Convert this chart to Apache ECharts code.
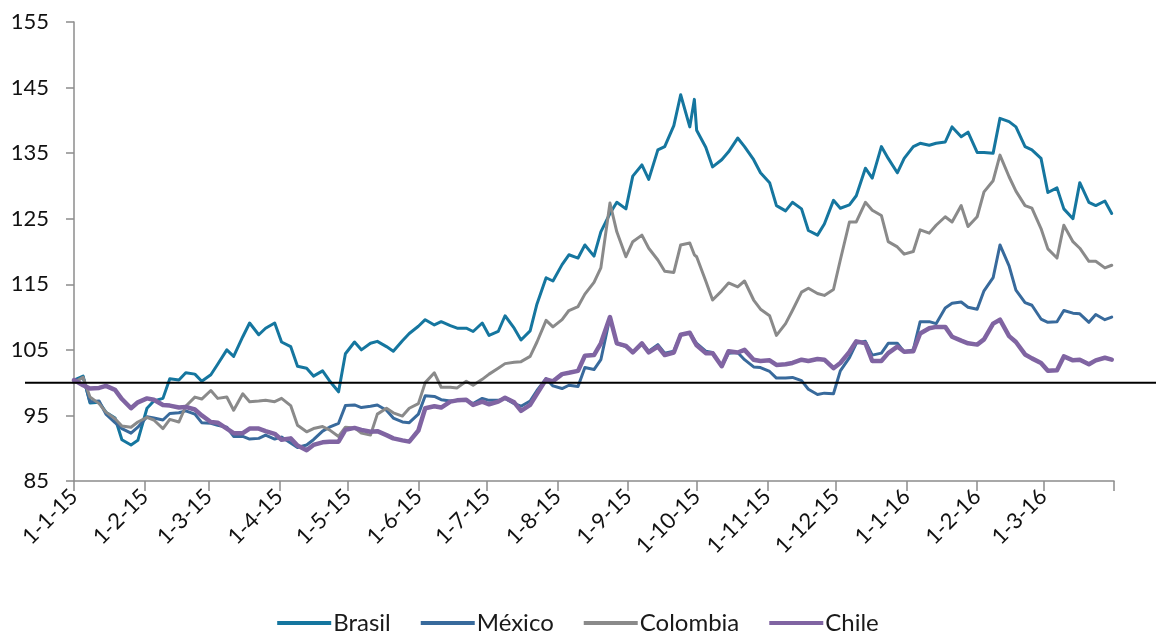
<!DOCTYPE html>
<html>
<head>
<meta charset="utf-8">
<script src="https://cdn.jsdelivr.net/npm/echarts@6/dist/echarts.min.js"></script>
<style>
  html, body { margin: 0; padding: 0; background: #ffffff; }
  #chart { width: 1156px; height: 635px; }
</style>
</head>
<body>
<div id="chart"></div>
<script>
// ---- Data ----
const dates = [
  '2015-01-01','2015-01-05','2015-01-08','2015-01-12','2015-01-15','2015-01-19','2015-01-22','2015-01-26','2015-01-29',
  '2015-02-02','2015-02-05','2015-02-09','2015-02-12','2015-02-16','2015-02-19','2015-02-23','2015-02-26',
  '2015-03-02','2015-03-05','2015-03-09','2015-03-12','2015-03-16','2015-03-19','2015-03-23','2015-03-26','2015-03-30',
  '2015-04-02','2015-04-06','2015-04-09','2015-04-13','2015-04-16','2015-04-20','2015-04-23','2015-04-27','2015-04-30',
  '2015-05-04','2015-05-07','2015-05-11','2015-05-14','2015-05-18','2015-05-21','2015-05-25','2015-05-28',
  '2015-06-01','2015-06-04','2015-06-08','2015-06-11','2015-06-15','2015-06-18','2015-06-22','2015-06-25','2015-06-29',
  '2015-07-02','2015-07-06','2015-07-09','2015-07-13','2015-07-16','2015-07-20','2015-07-23','2015-07-27','2015-07-30',
  '2015-08-03','2015-08-06','2015-08-10','2015-08-13','2015-08-17','2015-08-20','2015-08-24','2015-08-27','2015-08-31',
  '2015-09-03','2015-09-07','2015-09-10','2015-09-14','2015-09-17','2015-09-21','2015-09-24','2015-09-28','2015-09-30',
  '2015-10-01','2015-10-05','2015-10-08','2015-10-12','2015-10-15','2015-10-19','2015-10-22','2015-10-26','2015-10-29',
  '2015-11-02','2015-11-05','2015-11-09','2015-11-12','2015-11-16','2015-11-19','2015-11-23','2015-11-26','2015-11-30',
  '2015-12-03','2015-12-07','2015-12-10','2015-12-14','2015-12-17','2015-12-21','2015-12-24','2015-12-28','2015-12-31',
  '2016-01-04','2016-01-07','2016-01-11','2016-01-14','2016-01-18','2016-01-21','2016-01-25','2016-01-28',
  '2016-02-01','2016-02-04','2016-02-08','2016-02-11','2016-02-15','2016-02-18','2016-02-22','2016-02-25','2016-02-29',
  '2016-03-03','2016-03-07','2016-03-10','2016-03-14','2016-03-17','2016-03-21','2016-03-24','2016-03-28','2016-03-31'
];

const brasil = [
  100.4,101.0,96.9,97.0,95.5,94.6,91.3,90.5,91.2,
  96.1,97.2,97.6,100.6,100.4,101.5,101.3,100.2,
  101.2,102.8,105.0,104.0,107.0,109.1,107.3,108.3,109.1,
  106.2,105.5,102.5,102.2,101.0,101.8,100.3,98.6,104.4,
  106.2,105.0,106.0,106.3,105.5,104.8,106.4,107.5,
  108.6,109.6,108.8,109.3,108.7,108.3,108.3,107.8,109.1,
  107.2,107.8,110.2,108.3,106.5,107.9,112.0,116.0,115.5,
  118.0,119.5,119.0,121.0,119.3,123.0,125.8,127.5,126.5,
  131.5,133.2,131.0,135.5,136.0,139.2,143.9,139.0,143.2,
  138.5,135.9,132.9,134.0,135.2,137.3,136.0,134.0,132.0,
  130.5,127.0,126.2,127.5,126.5,123.2,122.5,124.2,127.8,
  126.6,127.1,128.5,132.7,131.2,136.0,134.2,132.0,134.2,
  136.0,136.5,136.2,136.5,136.7,139.0,137.5,138.2,
  135.1,135.1,135.0,140.3,139.8,139.0,136.0,135.5,134.2,
  129.0,129.7,126.5,125.0,130.5,127.5,127.0,127.7,125.8
];

const mexico = [
  100.2,100.8,97.1,97.2,95.2,93.9,93.0,92.3,93.2,
  94.8,94.6,94.3,95.3,95.4,95.7,95.2,93.9,
  93.8,93.5,93.2,91.8,91.8,91.4,91.5,92.0,91.4,
  91.7,90.8,90.1,90.5,91.3,92.6,93.2,93.8,96.5,
  96.6,96.2,96.4,96.6,95.8,94.6,94.0,93.9,
  95.2,98.0,97.9,97.4,97.2,97.3,97.3,96.8,97.6,
  97.3,97.3,97.6,96.8,96.4,97.2,98.8,100.6,99.5,
  99.1,99.6,99.4,102.3,102.0,103.5,110.0,106.0,105.5,
  104.6,106.0,104.8,105.8,104.5,104.8,107.3,107.6,106.5,
  106.0,104.8,104.6,102.5,104.5,104.6,103.5,102.4,102.3,
  101.7,100.7,100.7,100.8,100.3,99.0,98.2,98.4,98.3,
  101.8,103.8,106.0,106.3,104.2,104.5,106.0,106.0,104.7,
  105.0,109.3,109.3,109.0,111.4,112.1,112.3,111.5,
  111.2,114.0,116.0,121.0,117.8,114.1,112.2,111.8,109.7,
  109.2,109.3,111.0,110.6,110.5,109.2,110.4,109.6,110.0
];

const colombia = [
  100.0,100.8,97.8,96.8,95.5,94.5,93.4,93.2,94.0,
  94.7,94.3,93.0,94.4,94.0,96.4,97.8,97.5,
  98.8,97.6,97.8,95.8,98.3,97.1,97.2,97.3,97.1,
  97.6,96.5,93.5,92.5,93.0,93.3,92.8,91.8,93.2,
  93.1,92.3,92.0,95.2,96.1,95.4,94.9,96.1,
  96.8,100.0,101.5,99.3,99.3,99.2,100.2,99.6,100.5,
  101.3,102.2,102.9,103.1,103.2,104.0,106.2,109.5,108.5,
  109.6,111.0,111.6,113.5,115.3,117.5,127.4,123.0,119.2,
  121.5,122.5,120.5,118.7,117.0,116.8,121.0,121.3,119.5,
  119.2,115.5,112.6,114.0,115.2,114.6,115.5,112.6,111.2,
  110.2,107.2,109.0,111.0,113.8,114.4,113.6,113.3,114.2,
  118.7,124.5,124.5,127.5,126.3,125.5,121.5,120.7,119.6,
  120.0,123.3,122.8,124.0,125.3,124.5,127.0,123.8,
  125.3,129.1,130.8,134.7,131.4,129.2,127.0,126.6,123.5,
  120.4,119.0,124.0,121.5,120.5,118.5,118.5,117.5,117.9
];

const chile = [
  100.4,99.6,99.1,99.2,99.5,98.9,97.5,96.1,97.0,
  97.6,97.4,96.6,96.5,96.2,96.3,95.9,95.0,
  94.0,93.9,93.0,92.3,92.3,93.0,93.0,92.6,92.2,
  91.3,91.5,90.4,89.7,90.5,90.9,91.0,91.0,92.8,
  93.1,92.8,92.5,92.6,92.0,91.5,91.2,91.0,
  92.7,96.1,96.4,96.2,97.1,97.3,97.4,96.6,97.1,
  96.7,97.1,97.7,97.0,95.7,96.6,98.3,100.5,100.2,
  101.3,101.5,101.8,104.1,104.2,106.0,110.0,106.0,105.6,
  104.6,106.0,104.6,105.5,104.2,104.6,107.3,107.6,106.3,
  105.7,104.5,104.5,102.5,104.8,104.6,105.0,103.5,103.3,
  103.4,102.7,102.8,103.0,103.5,103.3,103.6,103.5,102.2,
  103.0,104.7,106.3,106.0,103.3,103.3,104.5,105.5,104.7,
  104.8,107.5,108.3,108.5,108.5,107.0,106.4,106.0,
  105.8,106.6,109.0,109.6,107.1,106.2,104.3,103.7,103.0,
  101.8,101.9,104.0,103.4,103.5,102.8,103.4,103.8,103.5
];

const seriesNames = ['Brasil', 'México', 'Colombia', 'Chile'];
const seriesColors = ['#15769f', '#386a9c', '#8a8a8a', '#8064a2'];
const seriesWidths = [3, 3, 3, 4.5];

// tick labels (month starts) and axis settings
const xTickLabels = ['1-1-15','1-2-15','1-3-15','1-4-15','1-5-15','1-6-15','1-7-15','1-8-15','1-9-15','1-10-15','1-11-15','1-12-15','1-1-16','1-2-16','1-3-16'];
const xStart = '2015-01-01';
const xEnd = '2016-04-01';
const yTicks = [85, 95, 105, 115, 125, 135, 145, 155];
const yMin = 85, yMax = 155;
const baseLevel = [100, 100];   // horizontal reference at 100
const baseSpan = [0, 1];

const FONT = 'Lato, "Open Sans", sans-serif';

function pairs(vals) { return dates.map((d, i) => [d, vals[i]]); }
const allVals = [brasil, mexico, colombia, chile];

const chart = echarts.init(document.getElementById('chart'), null, { renderer: 'canvas' });

const series = seriesNames.map((n, i) => ({
  name: n,
  type: 'line',
  xAxisIndex: 0, yAxisIndex: 0,
  data: pairs(allVals[i]),
  showSymbol: false,
  symbol: 'none',
  lineStyle: { color: seriesColors[i], width: seriesWidths[i], join: 'round', cap: 'round' },
  itemStyle: { color: seriesColors[i] },
  emphasis: { disabled: true },
  z: 3 + i
}));

series.push({
  name: 'base',
  type: 'line',
  xAxisIndex: 1, yAxisIndex: 1,
  data: baseSpan.map((x, i) => [x, baseLevel[i]]),
  symbol: 'none',
  lineStyle: { color: '#000000', width: 2 },
  silent: true,
  z: 10
});

chart.setOption({
  animation: false,
  backgroundColor: '#ffffff',
  textStyle: { fontFamily: FONT },
  grid: [
    { left: 74, right: 42, top: 22, bottom: 154, containLabel: false },
    { left: 25, right: 0, top: 22, bottom: 154, containLabel: false }
  ],
  legend: {
    data: seriesNames,
    left: 'center',
    top: 606,
    icon: 'rect',
    itemWidth: 54,
    itemHeight: 4,
    itemGap: 30,
    textStyle: { fontFamily: FONT, fontSize: 24, color: '#1a1a1a', padding: [0, 0, 0, -3] },
    selectedMode: false
  },
  xAxis: [
    {
      type: 'time',
      gridIndex: 0,
      min: xStart,
      max: xEnd,
      minInterval: 28 * 86400000,
      maxInterval: 31 * 86400000,
      splitLine: { show: false },
      axisLine: { show: true, lineStyle: { color: '#8c8c8c', width: 1.5 } },
      axisTick: { show: true, length: 10, lineStyle: { color: '#8c8c8c', width: 1.5 } },
      axisLabel: {
        rotate: 45,
        margin: 12,
        fontSize: 22,
        fontFamily: FONT,
        color: '#111111',
        showMinLabel: true,
        showMaxLabel: true,
        hideOverlap: false,
        formatter: function (val) {
          const d = new Date(val);
          const idx = (d.getFullYear() - 2015) * 12 + d.getMonth();
          return (d.getDate() === 1 && xTickLabels[idx]) ? xTickLabels[idx] : '';
        }
      }
    },
    { type: 'value', gridIndex: 1, min: 0, max: 1, show: false }
  ],
  yAxis: [
    {
      type: 'value',
      gridIndex: 0,
      min: yMin,
      max: yMax,
      splitLine: { show: false },
      axisLine: { show: true, lineStyle: { color: '#8c8c8c', width: 1.5 } },
      axisTick: { show: true, length: 8, customValues: yTicks, lineStyle: { color: '#8c8c8c', width: 1.5 } },
      axisLabel: { customValues: yTicks, margin: 25, fontSize: 22, fontFamily: FONT, color: '#111111' }
    },
    { type: 'value', gridIndex: 1, min: yMin, max: yMax, show: false }
  ],
  series: series
});
</script>
</body>
</html>
